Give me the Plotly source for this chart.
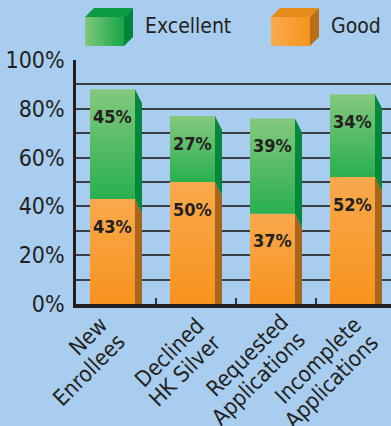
import plotly.graph_objects as go

# ---- data -------------------------------------------------------------
categories = [
    ["New", "Enrollees"],
    ["Declined", "HK Silver"],
    ["Requested", "Applications"],
    ["Incomplete", "Applications"],
]
good = [43, 50, 37, 52]
excellent = [45, 27, 39, 34]
series_names = ["Excellent", "Good"]
y_tick_values = [0, 10, 20, 30, 40, 50, 60, 70, 80, 90, 100]
y_tick_labels = ["0%", "", "20%", "", "40%", "", "60%", "", "80%", "", "100%"]

# ---- styling ----------------------------------------------------------
W, H = 391, 426
BG = "#a9cdee"
INK = "#231f20"
COND = "DejaVu Sans Condensed, DejaVu Sans, sans-serif"

GREEN_FRONT = ["#2aaf50", "#84c97e"]     # bottom -> top
GREEN_SIDE = "#05883c"
ORANGE_FRONT = ["#f7931e", "#f9a94c"]
ORANGE_SIDE = "#a9661a"

# plot frame (pixels)
LEFT, TOP, BOTTOM = 76, 60, 304
CAT_PX = 80
x_hi = -0.5 + (W - LEFT) / CAT_PX
px_per_pct = (BOTTOM - TOP) / 100.0

# bar geometry in category units
FRONT_L, FRONT_R, SIDE_R = -0.325, 0.2375, 0.325
SLANT = 14 / px_per_pct          # the side face drops by 14px

fig = go.Figure()


def add_poly(xs, ys, color=None, gradient=None, xaxis="x", yaxis="y"):
    kw = dict(x=xs, y=ys, mode="lines", fill="toself", line=dict(width=0),
              hoverinfo="skip", showlegend=False, xaxis=xaxis, yaxis=yaxis)
    if gradient is not None:
        kw["fillgradient"] = gradient
        kw["fillcolor"] = gradient["colorscale"][-1][1]
    else:
        kw["fillcolor"] = color
    fig.add_trace(go.Scatter(**kw))


annotations = []
for i, (g, e) in enumerate(zip(good, excellent)):
    base = 0
    for val, front, side in [(g, ORANGE_FRONT, ORANGE_SIDE), (e, GREEN_FRONT, GREEN_SIDE)]:
        y0, y1 = base, base + val
        xl, xr, xs = i + FRONT_L, i + FRONT_R, i + SIDE_R
        add_poly([xl, xr, xr, xl, xl], [y0, y0, y1, y1, y0],
                 gradient=dict(type="vertical", colorscale=[[0, front[0]], [1, front[1]]]))
        add_poly([xr, xs, xs, xr, xr], [y1, y1 - SLANT, max(y0 - SLANT, 0), y0, y1], color=side)
        annotations.append(dict(
            x=i + (FRONT_L + FRONT_R) / 2, y=y1, xref="x", yref="y",
            text=f"<b>{val}%</b>", showarrow=False, yshift=-27,
            font=dict(family=COND, size=18, color=INK),
        ))
        base = y1

# category labels: two right-aligned lines, rotated -45 degrees
LINE1_SHIFT = [(-1, 310), (16, 310), (20, 307), (13, 310)]   # px offsets (x from category, y from top)
LINE_STEP = 17
for i, (l1, l2) in enumerate(categories):
    dx, ytop = LINE1_SHIFT[i]
    for k, txt in enumerate([l1, l2]):
        annotations.append(dict(
            x=i, xref="x", xshift=dx + k * LINE_STEP,
            y=1 - (ytop + k * LINE_STEP) / H, yref="paper",
            text=txt, showarrow=False, textangle=-45,
            xanchor="right", yanchor="top",
            font=dict(family=COND, size=22, color=INK),
        ))

# legend: cubes drawn on a pixel-space overlay axis
CUBE_W, CUBE_H, DEPTH = 39, 29, 9
legend_items = [
    (series_names[0], 85, ["#7fc97b", "#17a548"], "#0b9a42", "#00853a"),
    (series_names[1], 271, ["#f9ab4e", "#f7941d"], "#e48b1a", "#b86f15"),
]
for name, x0, front, top_c, side_c in legend_items:
    y0 = 17
    x1, y1 = x0 + CUBE_W, y0 + CUBE_H
    add_poly([x0, x1, x1, x0, x0], [y0, y0, y1, y1, y0],
             gradient=dict(type="horizontal", colorscale=[[0, front[0]], [1, front[1]]]),
             xaxis="x2", yaxis="y2")
    add_poly([x0, x0 + DEPTH, x1 + DEPTH, x1, x0], [y0, y0 - DEPTH, y0 - DEPTH, y0, y0],
             color=top_c, xaxis="x2", yaxis="y2")
    add_poly([x1, x1 + DEPTH, x1 + DEPTH, x1, x1], [y0, y0 - DEPTH, y1 - DEPTH, y1, y0],
             color=side_c, xaxis="x2", yaxis="y2")
    annotations.append(dict(
        x=(x1 + DEPTH + 10) / W, y=1 - 26 / H, xref="paper", yref="paper",
        xanchor="left", yanchor="middle", text=name, showarrow=False,
        font=dict(family=COND, size=21, color=INK),
    ))

fig.update_layout(
    width=W, height=H,
    margin=dict(l=0, r=0, t=0, b=0, pad=0, autoexpand=False),
    paper_bgcolor=BG, plot_bgcolor="rgba(0,0,0,0)",
    showlegend=False,
    annotations=annotations,
    xaxis=dict(
        domain=[LEFT / W, 1], range=[-0.5, x_hi], automargin=False,
        showgrid=False, zeroline=False, showticklabels=False,
        showline=True, linewidth=3.5, linecolor=INK,
        ticks="inside", tickvals=[0.5, 1.5, 2.5], ticklen=6, tickwidth=1.5, tickcolor="#333333",
        fixedrange=True,
    ),
    yaxis=dict(
        domain=[1 - BOTTOM / H, 1 - TOP / H], range=[0, 100], automargin=False,
        tickvals=y_tick_values, ticktext=y_tick_labels,
        showgrid=True, gridcolor="#3a3f45", gridwidth=1.5, zeroline=False,
        showline=True, linewidth=2.5, linecolor=INK,
        ticks="", ticklabelstandoff=4,
        tickfont=dict(family=COND, size=23, color=INK),
        fixedrange=True,
    ),
    xaxis2=dict(domain=[0, 1], range=[0, W], visible=False, anchor="y2",
                automargin=False, fixedrange=True),
    yaxis2=dict(domain=[0, 1], range=[H, 0], visible=False, anchor="x2",
                automargin=False, fixedrange=True),
)

fig.write_html("out.html", config=dict(displayModeBar=False))
